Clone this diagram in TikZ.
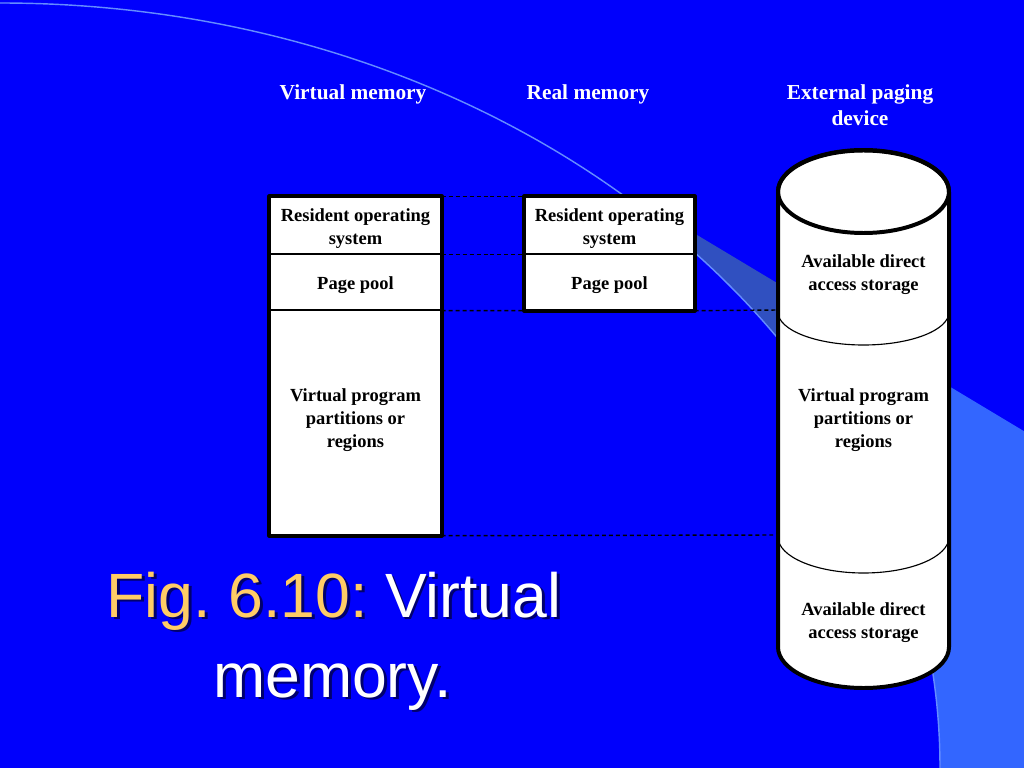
\documentclass[tikz,border=0pt]{standalone}
\usepackage{fontspec}
\setmainfont{Liberation Serif}
\newfontfamily\arialfont{Liberation Sans}
\definecolor{bg}{RGB}{0,0,252}
\definecolor{bandc}{RGB}{48,80,192}
\definecolor{lightc}{RGB}{51,102,255}
\definecolor{arcc}{RGB}{100,140,255}
\definecolor{gold}{RGB}{255,204,102}
\definecolor{shd}{RGB}{0,0,110}
\frenchspacing
\newcommand\shadowed[1]{\makebox[0pt][l]{\hspace{2.1pt}\raisebox{-2.1pt}{\color{shd}#1}}}
\begin{document}
\begin{tikzpicture}[x=0.703125pt,y=-0.703125pt,line join=round,
	lbl/.style={text=white,font=\fontsize{15}{18.3}\selectfont\bfseries,align=center},
	txt/.style={font=\fontsize{13}{16}\selectfont\bfseries,align=center,yshift=-2pt},
	cell/.style={draw,fill=white,line width=1pt,inner sep=0pt},
	dsh/.style={line width=1pt,dash pattern=on 2.8pt off 2.1pt},
	ttl/.style={text=white,font=\arialfont\fontsize{44}{56}\selectfont,anchor=base}]
	\def\u{0.703125pt}
	\useasboundingbox (0,0) rectangle (1024,768);
	\fill[bg] (0,0) rectangle (1024,768);
	\begin{scope}
		\clip (640,200.8)--(1024,431.2)--(1024,768)--(640,768)--cycle;
		\fill[bandc] (640,0) rectangle (860,768);
		\fill[lightc] (860,0) rectangle (1024,768);
	\end{scope}
	\fill[bg] (0,768) ellipse [x radius=940,y radius=765];
	\draw[arcc,line width=1pt] (0,768) ellipse [x radius=940,y radius=765];
	\node[lbl] (vm) at (353,94) {Virtual memory};
	\node[lbl] (rm) at (588,94) {Real memory};
	\node[lbl] (ext) at (860,105) {External paging\\device};
	\coordinate (c1) at (778,310);
	\coordinate (c2) at (778,535);
	\filldraw[fill=white,line width=2.8pt] (778,192)--(778,647)
	arc[start angle=180,end angle=0,x radius=85.5,y radius=41]--(949,192)
	arc[start angle=0,end angle=-180,x radius=85.5,y radius=41.5]--cycle;
	\draw[line width=2.8pt] (863.5,191.5) ellipse [x radius=85.5,y radius=41.5];
	\draw[line width=.8pt] (778,312) arc[start angle=180,end angle=0,x radius=85.5,y radius=33];
	\draw[line width=.8pt] (778,537) arc[start angle=180,end angle=0,x radius=85.5,y radius=36];
	\node[txt] (ca1) at (863.5,271.5) {Available direct\\access storage};
	\node[txt] (cvp) at (863.5,417.5) {Virtual program\\partitions or\\regions};
	\node[txt] (ca2) at (863.5,619.5) {Available direct\\access storage};
	\node[cell,minimum width=171*\u,minimum height=57*\u] (vros) at (355.5,225.5) {};
	\node[cell,minimum width=171*\u,minimum height=56*\u] (vpp) at (355.5,282) {};
	\node[cell,minimum width=171*\u,minimum height=225*\u] (vvp) at (355.5,422.5) {};
	\node[cell,minimum width=169*\u,minimum height=57*\u] (rros) at (609.5,225.5) {};
	\node[cell,minimum width=169*\u,minimum height=56*\u] (rpp) at (609.5,282) {};
	\node[txt] (vrost) at (vros) {Resident operating\\system};
	\node[txt] (vppt) at (vpp) {Page pool};
	\node[txt] (vvpt) at (355.5,417.5) {Virtual program\\partitions or\\regions};
	\node[txt] (rrost) at (rros) {Resident operating\\system};
	\node[txt] (rppt) at (rpp) {Page pool};
	\draw[line width=2.8pt] (vros.north west) rectangle (vvp.south east);
	\draw[line width=2.8pt] (rros.north west) rectangle (rpp.south east);
	\draw[dsh] (vros.north east)--(rros.north west);
	\draw[dsh] (vros.south east)--(rros.south west);
	\draw[dsh] (vpp.south east)--(rpp.south west) (rpp.south east)--(c1);
	\draw[dsh] (vvp.south east)--(c2);
	\node[ttl] (f1) at (334,617) {\shadowed{Fig. 6.10: Virtual}\textcolor{gold}{Fig. 6.10:} Virtual};
	\node[ttl] (f2) at (332.5,697) {\shadowed{memory.}memory.};
\end{tikzpicture}
\end{document}
